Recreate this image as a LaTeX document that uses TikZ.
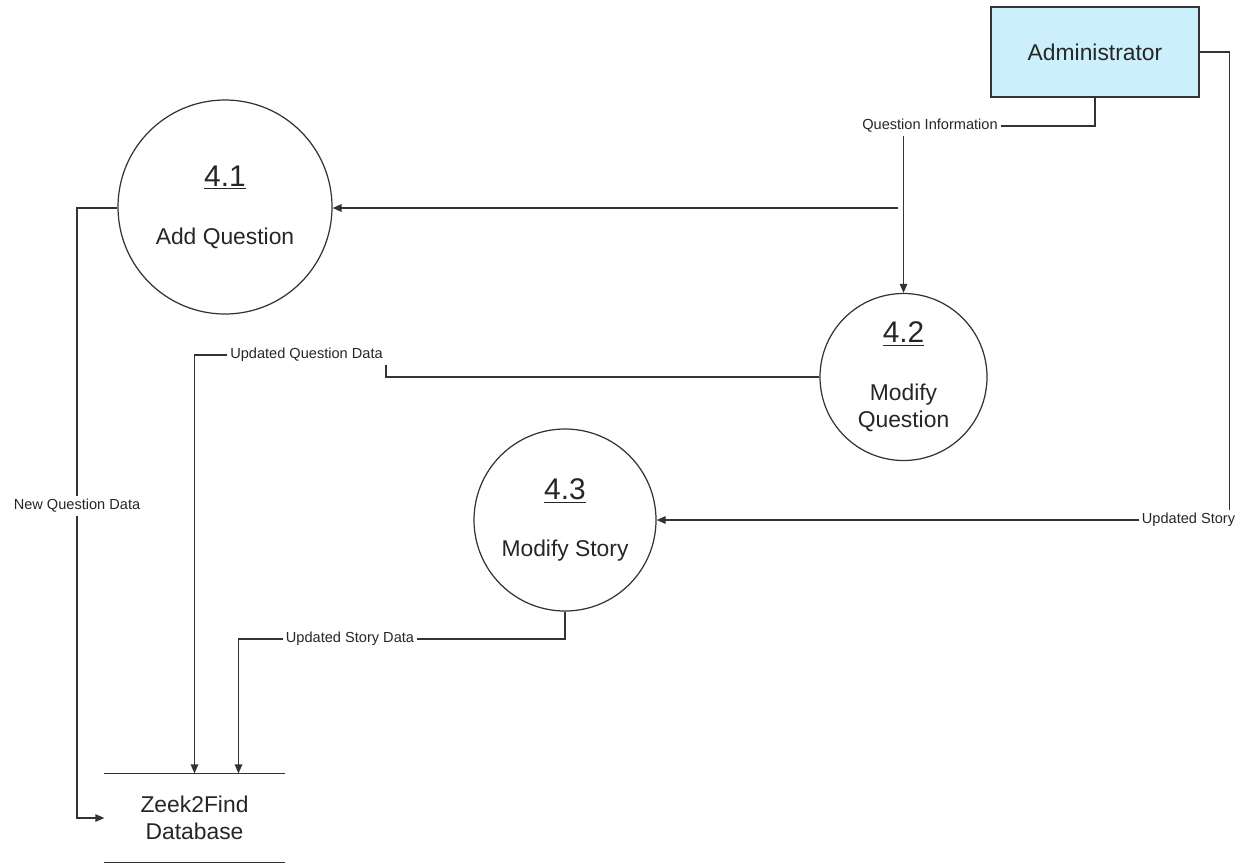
\documentclass[tikz,border=0pt]{standalone}
\usepackage{fontspec}
\setmainfont{Liberation Sans}
\usetikzlibrary{arrows.meta}
\newcommand{\procnum}[1]{{\fontsize{17}{20}\selectfont\underline{#1}}}

\begin{document}
\begin{tikzpicture}[line width=0.7pt,
    wire/.style={draw=black!80},
    flow/.style={draw=black!80,-{Triangle[length=1.8mm,width=1.5mm]}},
    bigtext/.style={text=black!85,font=\fontsize{13}{15.5}\selectfont},
    process/.style={circle,draw=black!80,bigtext,align=center,inner sep=0pt},
    flowlabel/.style={inner sep=1.5pt,text=black!85,font=\fontsize{8.3}{10}\selectfont}]
  \useasboundingbox (0,0) rectangle (24.98,-17.26);

  % entity and data store
  \node[draw=black!80,fill=cyan!20,minimum width=4.16cm,minimum height=1.8cm,bigtext] (admin) at (21.9,-1.04) {Administrator};
  \node[minimum width=3.58cm,minimum height=1.76cm,align=center,bigtext] (db) at (3.89,-16.36) {Zeek2Find\\Database};
  \draw[wire] (db.north west) -- (db.north east);
  \draw[wire] (db.south west) -- (db.south east);

  % processes
  \node[process,minimum size=4.28cm] (q41) at (4.5,-4.14) {\procnum{4.1}\\[17.4pt]Add Question};
  \node[process,minimum size=3.34cm] (q42) at (18.07,-7.54) {\procnum{4.2}\\[17.4pt]Modify\\Question};
  \node[process,minimum size=3.64cm] (q43) at (11.3,-10.4) {\procnum{4.3}\\[17.4pt]Modify Story};

  % flow labels
  \node[flowlabel] (qinfo) at (18.6,-2.52) {Question Information};
  \node[flowlabel] (nqd) at (1.54,-10.12) {New Question Data};
  \node[flowlabel] (uqd) at (6.13,-7.1) {Updated Question Data};
  \node[flowlabel] (usd) at (7.0,-12.78) {Updated Story Data};
  \node[flowlabel] (ustory) at (23.77,-10.4) {Updated Story};

  % flows
  \draw[wire] (admin) -- (admin |- qinfo) -- (qinfo);
  \draw[flow] (q42 |- qinfo.south) -- (q42);
  \coordinate (qsplit) at (17.96,-4.16);
  \draw[flow] (qsplit) -- (qsplit -| q41.east);
  \draw[wire] (admin.east) -- ++(0.6,0) coordinate (rturn) -- (rturn |- ustory.north);
  \draw[flow] (ustory) -- (q43);
  \draw[wire] (q42) -- (uqd.south east |- q42) -- (uqd.south east);
  \draw[flow] (uqd) -| (db.north);
  \draw[wire] (q43) -- (q43 |- usd) -- (usd);
  \draw[flow] (usd) -| ([xshift=0.88cm]db.north);
  \draw[wire] (qsplit -| q41.west) -- (qsplit -| nqd) -- (nqd);
  \draw[flow] (nqd) |- (db);
\end{tikzpicture}
\end{document}
